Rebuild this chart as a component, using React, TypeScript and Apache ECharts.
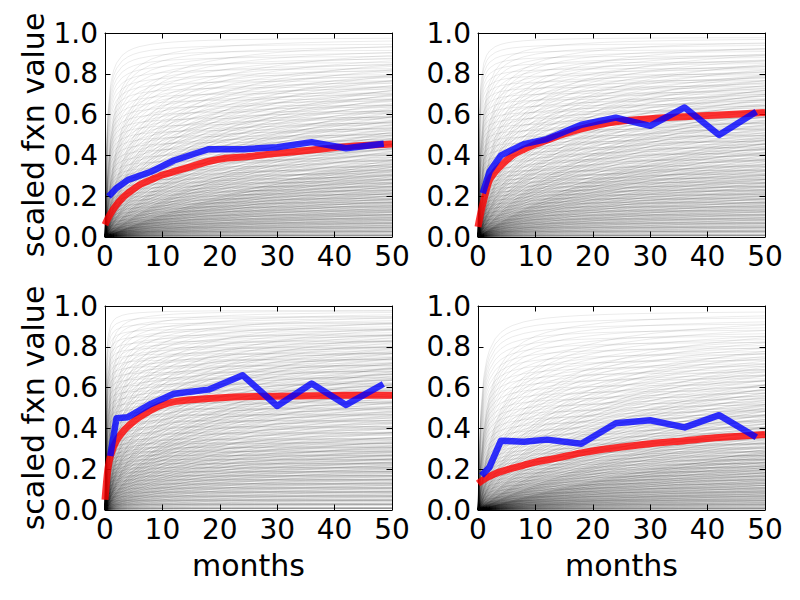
import React, { useEffect, useRef } from "react";
import * as echarts from "echarts";

// ---- data ----
const xTicks = [0, 10, 20, 30, 40, 50];
const yTicks = [0, 0.2, 0.4, 0.6, 0.8, 1.0];

const blueMonths = [1, 2, 4, 8, 12, 18, 24, 30, 36, 42, 48];
const blueTL = [0.21, 0.24, 0.28, 0.32, 0.375, 0.43, 0.43, 0.44, 0.465, 0.435, 0.455];
const blueTR = [0.23, 0.32, 0.4, 0.455, 0.48, 0.55, 0.585, 0.545, 0.635, 0.5, 0.605];
const blueBL = [0.28, 0.45, 0.455, 0.52, 0.57, 0.59, 0.66, 0.51, 0.62, 0.515, 0.61];
const blueBR = [0.18, 0.21, 0.34, 0.335, 0.345, 0.325, 0.425, 0.44, 0.405, 0.465, 0.365];

const redMonths = [0, 0.5, 1, 2, 3, 4, 6, 8, 10, 12, 15, 18, 21, 24, 30, 36, 42, 50];
const redTL = [0.06, 0.09, 0.116, 0.157, 0.19, 0.214, 0.255, 0.28, 0.304, 0.32, 0.345, 0.37, 0.386, 0.392, 0.41, 0.426, 0.443, 0.456];
const redTR = [0.05, 0.12, 0.18, 0.28, 0.32, 0.35, 0.4, 0.43, 0.455, 0.475, 0.505, 0.53, 0.55, 0.565, 0.58, 0.59, 0.598, 0.61];
const redBL = [0.05, 0.2, 0.27, 0.34, 0.38, 0.41, 0.455, 0.49, 0.515, 0.53, 0.54, 0.547, 0.552, 0.555, 0.558, 0.56, 0.562, 0.563];
const redBR = [0.13, 0.14, 0.15, 0.165, 0.178, 0.188, 0.205, 0.22, 0.235, 0.245, 0.262, 0.28, 0.294, 0.305, 0.325, 0.34, 0.355, 0.37];

// gray fitted-function family: sample months, estimated plateaus and half-rise months per panel
const grayMonths = [0, 0.25, 0.5, 1, 1.5, 2, 3, 4, 5, 6, 8, 10, 12, 15, 18, 22, 26, 30, 35, 40, 45, 50];
const grayPlateaus = [
  0.01, 0.03, 0.05, 0.07, 0.09, 0.11, 0.13, 0.15, 0.17, 0.19, 0.21, 0.23, 0.25, 0.27, 0.29,
  0.31, 0.33, 0.35, 0.38, 0.41, 0.44, 0.47, 0.5, 0.53, 0.56, 0.59, 0.62, 0.65, 0.68, 0.71,
  0.74, 0.77, 0.8, 0.83, 0.86, 0.89, 0.92, 0.95, 0.98,
];
const grayHalfTL = [0.3, 1, 2.5, 5, 8, 12, 18, 28, 45, 80];
const grayHalfTR = [0.15, 0.6, 1.5, 3, 5, 8, 12, 18, 28, 50];
const grayHalfBL = [0.08, 0.25, 0.6, 1.2, 2, 3.5, 5.5, 8, 12, 20];
const grayHalfBR = [0.5, 1.5, 4, 8, 13, 20, 30, 45, 70, 120];

const yTitle = "scaled fxn value";
const xTitle = "months";

// ---- chart ----
const FONT = "DejaVu Sans";

type Panel = {
  left: number; top: number;
  blue: number[]; red: number[];
  halves: number[];
  xName: string; yName: string;
};

const panels: Panel[] = [
  { left: 105, top: 33, blue: blueTL, red: redTL, halves: grayHalfTL, xName: "", yName: yTitle },
  { left: 478, top: 33, blue: blueTR, red: redTR, halves: grayHalfTR, xName: "", yName: "" },
  { left: 105, top: 306, blue: blueBL, red: redBL, halves: grayHalfBL, xName: xTitle, yName: yTitle },
  { left: 478, top: 306, blue: blueBR, red: redBR, halves: grayHalfBR, xName: xTitle, yName: "" },
];

function buildOption() {
  const grid: any[] = [];
  const xAxis: any[] = [];
  const yAxis: any[] = [];
  const series: any[] = [];
  const tick = { show: true, inside: true, length: 5.5, lineStyle: { color: "#000", width: 1 } };
  const line = { show: true, onZero: false, lineStyle: { color: "#000", width: 1 } };
  const label = { fontSize: 28, color: "#000", fontFamily: FONT };
  const title = { fontSize: 30, color: "#000", fontFamily: FONT };

  panels.forEach((p, i) => {
    grid.push({ left: p.left, top: p.top, width: 287, height: 204, containLabel: false });
    xAxis.push({
      gridIndex: i, type: "value", min: xTicks[0], max: xTicks[xTicks.length - 1],
      interval: xTicks[1] - xTicks[0], position: "bottom",
      axisLine: line, axisTick: tick, splitLine: { show: false },
      axisLabel: { ...label, margin: 5 },
      name: p.xName, nameLocation: "middle", nameGap: 40,
      nameTextStyle: { ...title },
    });
    xAxis.push({
      gridIndex: i, type: "value", min: xTicks[0], max: xTicks[xTicks.length - 1],
      interval: xTicks[1] - xTicks[0], position: "top",
      axisLine: line, axisTick: tick, splitLine: { show: false }, axisLabel: { show: false },
    });
    yAxis.push({
      gridIndex: i, type: "value", min: yTicks[0], max: yTicks[yTicks.length - 1],
      interval: 0.2, position: "left",
      axisLine: line, axisTick: tick, splitLine: { show: false },
      axisLabel: { ...label, margin: 7, formatter: (v: number) => v.toFixed(1) },
      name: p.yName, nameLocation: "middle", nameGap: 57, nameRotate: 90,
      nameTextStyle: { ...title },
    });
    yAxis.push({
      gridIndex: i, type: "value", min: yTicks[0], max: yTicks[yTicks.length - 1],
      interval: 0.2, position: "right",
      axisLine: line, axisTick: tick, splitLine: { show: false }, axisLabel: { show: false },
    });

    const curves: any[] = [];
    p.halves.forEach((h) => {
      grayPlateaus.forEach((a) => {
        curves.push({ coords: grayMonths.map((t) => [t, (a * t) / (t + h)]) });
      });
    });
    series.push({
      type: "lines", coordinateSystem: "cartesian2d", polyline: true,
      xAxisIndex: 2 * i, yAxisIndex: 2 * i, silent: true,
      lineStyle: { color: "#000", width: 0.8, opacity: 0.1 },
      data: curves, z: 1,
    });
    series.push({
      type: "line", xAxisIndex: 2 * i, yAxisIndex: 2 * i, showSymbol: false, smooth: 0.3,
      clip: true, silent: true, z: 3,
      lineStyle: { color: "#ff0000", width: 7, opacity: 0.8, cap: "butt", join: "round" },
      data: redMonths.map((m, k) => [m, p.red[k]]),
    });
    series.push({
      type: "line", xAxisIndex: 2 * i, yAxisIndex: 2 * i, showSymbol: false,
      clip: true, silent: true, z: 4,
      lineStyle: { color: "#0000ff", width: 6.5, opacity: 0.8, cap: "square", join: "round" },
      data: blueMonths.map((m, k) => [m, p.blue[k]]),
    });
  });

  return { animation: false, backgroundColor: "#fff", grid, xAxis, yAxis, series };
}

export default function App() {
  const ref = useRef<HTMLDivElement>(null);
  useEffect(() => {
    document.body.style.margin = "0";
    if (!ref.current) return;
    const chart = echarts.init(ref.current, undefined, { renderer: "svg" });
    chart.setOption(buildOption() as any);
    return () => chart.dispose();
  }, []);
  return <div ref={ref} style={{ width: 800, height: 600 }} />;
}
